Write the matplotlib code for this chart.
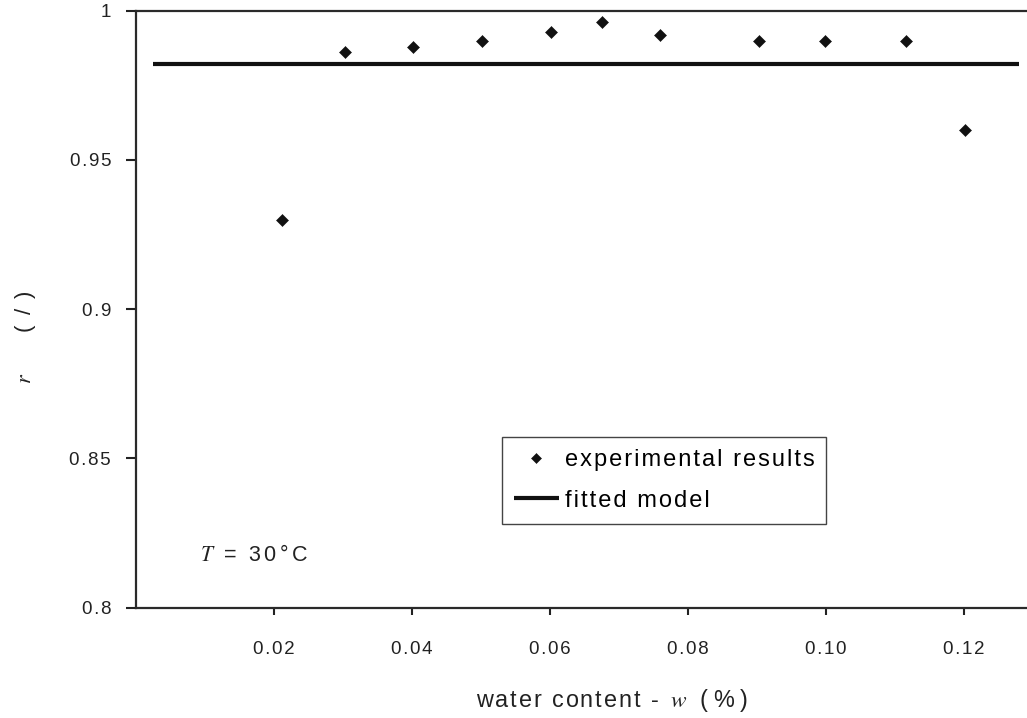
import matplotlib

matplotlib.use("Agg")
import matplotlib.pyplot as plt

# measured points (water content in %, r)
water_content = [0.0211, 0.0303, 0.0401, 0.0501, 0.0601, 0.0676, 0.0760, 0.0903, 0.0999, 0.1116, 0.1201]
r_values = [0.930, 0.986, 0.988, 0.990, 0.9927, 0.9962, 0.9918, 0.990, 0.990, 0.990, 0.960]

# fitted model is a constant r
fit_x = [0.0025, 0.128]
fit_r = [0.9823, 0.9823]

x_ticks = [0.02, 0.04, 0.06, 0.08, 0.10, 0.12]
x_tick_labels = ["0.02", "0.04", "0.06", "0.08", "0.10", "0.12"]
y_ticks = [0.8, 0.85, 0.9, 0.95, 1.0]
y_tick_labels = ["0.8", "0.85", "0.9", "0.95", "1"]

plt.rcParams["font.family"] = ["Liberation Sans", "DejaVu Sans"]
plt.rcParams["mathtext.fontset"] = "stix"

ink = "#111111"
txt = "#222222"
HAIR = "\u200a"


def spaced(s, gap=HAIR):
    # the original figure uses loose letter spacing
    return gap.join(s)


fig = plt.figure(figsize=(10.27, 7.18), dpi=100)
ax = fig.add_axes([136 / 1027, 1 - 607.7 / 718, 891 / 1027, 597 / 718])

ax.plot(water_content, r_values, linestyle="none", marker="D", ms=6.2,
        color=ink, mew=0.4, label=spaced("experimental results"))
ax.plot(fit_x, fit_r, color=ink, lw=3.0, solid_capstyle="butt", label=spaced("fitted model"))

ax.set_xlim(0, 891 / 6900)
ax.set_ylim(0.8, 1.0)
ax.set_xticks(x_ticks)
ax.set_xticklabels([spaced(t) for t in x_tick_labels])
ax.set_yticks(y_ticks)
ax.set_yticklabels([spaced(t) for t in y_tick_labels])
ax.tick_params(axis="x", direction="out", length=5, width=1.5, pad=19, labelsize=13.5, colors=txt)
ax.tick_params(axis="y", direction="out", length=7, width=1.5, pad=11, labelsize=13.5, colors=txt)

for side in ["left", "bottom", "top"]:
    ax.spines[side].set_linewidth(1.6)
    ax.spines[side].set_color("#2a2a2a")
ax.spines["right"].set_visible(False)

leg = ax.legend(loc="upper left", bbox_to_anchor=((502 - 136) / 891, (607.7 - 437) / 597),
                borderaxespad=0, fancybox=False, framealpha=1, edgecolor="#444",
                fontsize=17, handlelength=1.9, handletextpad=0.25, labelspacing=0.8,
                borderpad=0.5, markerscale=0.9)
leg.get_frame().set_linewidth(1.0)

ax.text(0.0093, 0.8175, "$T$" + "  =  " + spaced("30°C", HAIR * 2), fontsize=15.5,
        va="center", ha="left", color=txt)

fig.text(612 / 1027, 1 - 700 / 718,
         spaced("water content -") + "  $w$  " + spaced("(%)", HAIR * 3),
         ha="center", va="center", fontsize=16.8, color=txt)
fig.text(25 / 1027, 1 - 337 / 718, "$r$       " + spaced("( / )"), rotation=90,
         ha="center", va="center", fontsize=16, color=txt)

fig.savefig("out.png", dpi=100)
